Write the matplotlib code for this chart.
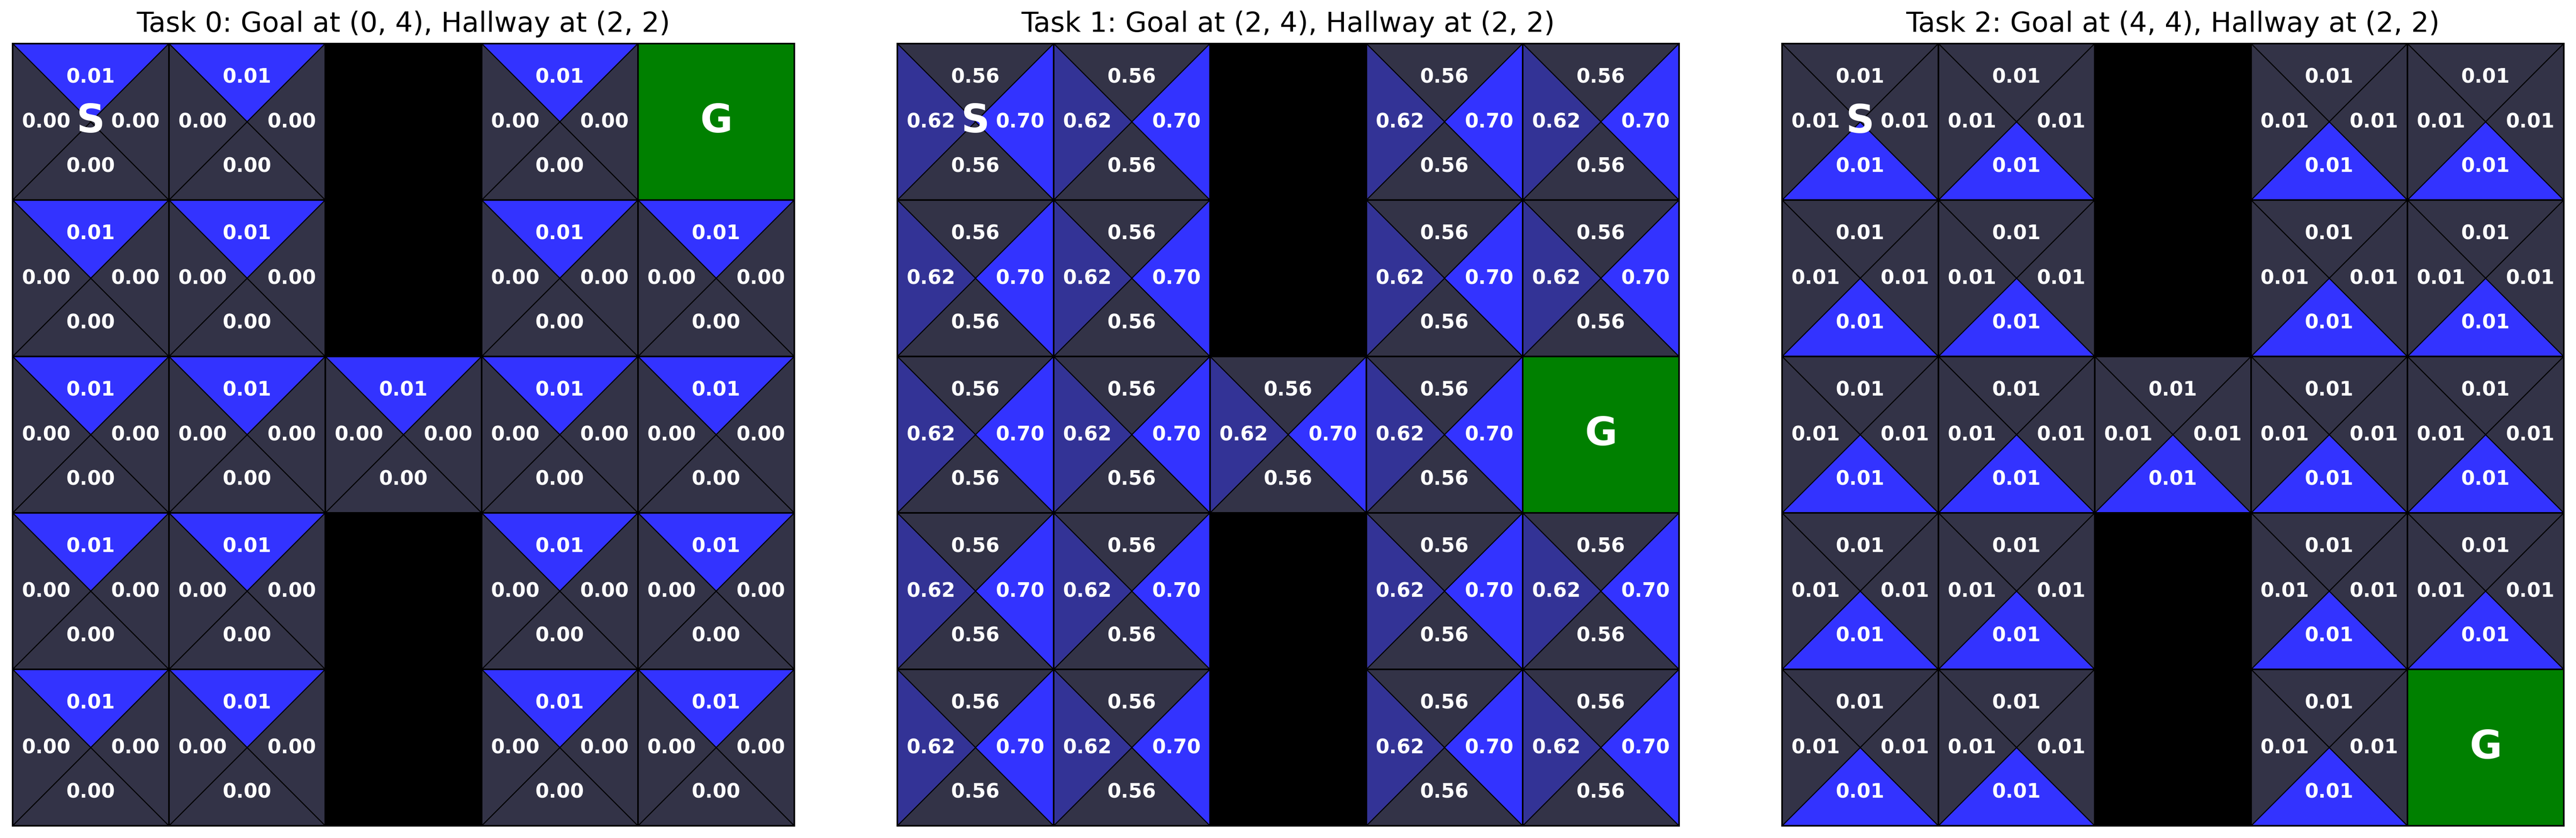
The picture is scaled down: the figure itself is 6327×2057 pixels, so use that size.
import matplotlib
matplotlib.use('Agg')
import matplotlib.pyplot as plt
from matplotlib.patches import Polygon, Rectangle
from matplotlib.colors import LinearSegmentedColormap, Normalize

# ---- data ----
titles = ["Task 0: Goal at (0, 4), Hallway at (2, 2)",
          "Task 1: Goal at (2, 4), Hallway at (2, 2)",
          "Task 2: Goal at (4, 4), Hallway at (2, 2)"]
goal_rows = [0, 2, 4]
goal_cols = [4, 4, 4]
hall_row, hall_col = 2, 2
wall_col = 2
start_row, start_col = 0, 0
n_rows, n_cols = 5, 5
# action values per task (same for every open state)
q_up = [0.010, 0.56, 0.008]
q_down = [0.000, 0.56, 0.012]
q_left = [0.000, 0.62, 0.008]
q_right = [0.000, 0.70, 0.008]

DPI = 350
W, H = 6327, 2057
fig = plt.figure(figsize=(W / DPI, H / DPI), dpi=DPI)

cmap = LinearSegmentedColormap.from_list('q', ['#333347', '#3333ff'])
lefts = [31 / W, 2204 / W, 4377 / W]
aw = 1920 / W
ah = 1920 / H
ab = (H - 2027) / H

off = 0.285
for i in range(3):
    ax = fig.add_axes([lefts[i], ab, aw, ah])
    vals = {'up': q_up[i], 'down': q_down[i], 'left': q_left[i], 'right': q_right[i]}
    norm = Normalize(min(vals.values()), max(vals.values()))
    for r in range(n_rows):
        for c in range(n_cols):
            if c == wall_col and r != hall_row:
                ax.add_patch(Rectangle((c, r), 1, 1, facecolor='black', edgecolor='black', lw=0.8))
                continue
            if r == goal_rows[i] and c == goal_cols[i]:
                ax.add_patch(Rectangle((c, r), 1, 1, facecolor='#008000', edgecolor='black', lw=0.8))
                ax.text(c + 0.5, r + 0.5, 'G', color='white', fontsize=20, fontweight='bold',
                        ha='center', va='center')
                continue
            cx, cy = c + 0.5, r + 0.5
            tris = {
                'up': [(c, r), (c + 1, r), (cx, cy)],
                'down': [(c, r + 1), (c + 1, r + 1), (cx, cy)],
                'left': [(c, r), (c, r + 1), (cx, cy)],
                'right': [(c + 1, r), (c + 1, r + 1), (cx, cy)],
            }
            offs = {'up': (0, -off), 'down': (0, off), 'left': (-off, 0), 'right': (off, 0)}
            for a, pts in tris.items():
                ax.add_patch(Polygon(pts, closed=True, facecolor=cmap(norm(vals[a])),
                                     edgecolor='black', lw=0.5))
                dx, dy = offs[a]
                ax.text(cx + dx, cy + dy, f"{vals[a]:.2f}", color='white', fontsize=10,
                        fontweight='bold', ha='center', va='center')
            ax.add_patch(Rectangle((c, r), 1, 1, fill=False, edgecolor='black', lw=0.8))
            if r == start_row and c == start_col:
                ax.text(cx, cy, 'S', color='white', fontsize=20, fontweight='bold',
                        ha='center', va='center')
    ax.set_xlim(0, n_cols)
    ax.set_ylim(n_rows, 0)
    ax.set_aspect('equal')
    ax.set_xticks([])
    ax.set_yticks([])
    ax.set_title(titles[i], fontsize=14)

fig.savefig('out.png', dpi=DPI)
